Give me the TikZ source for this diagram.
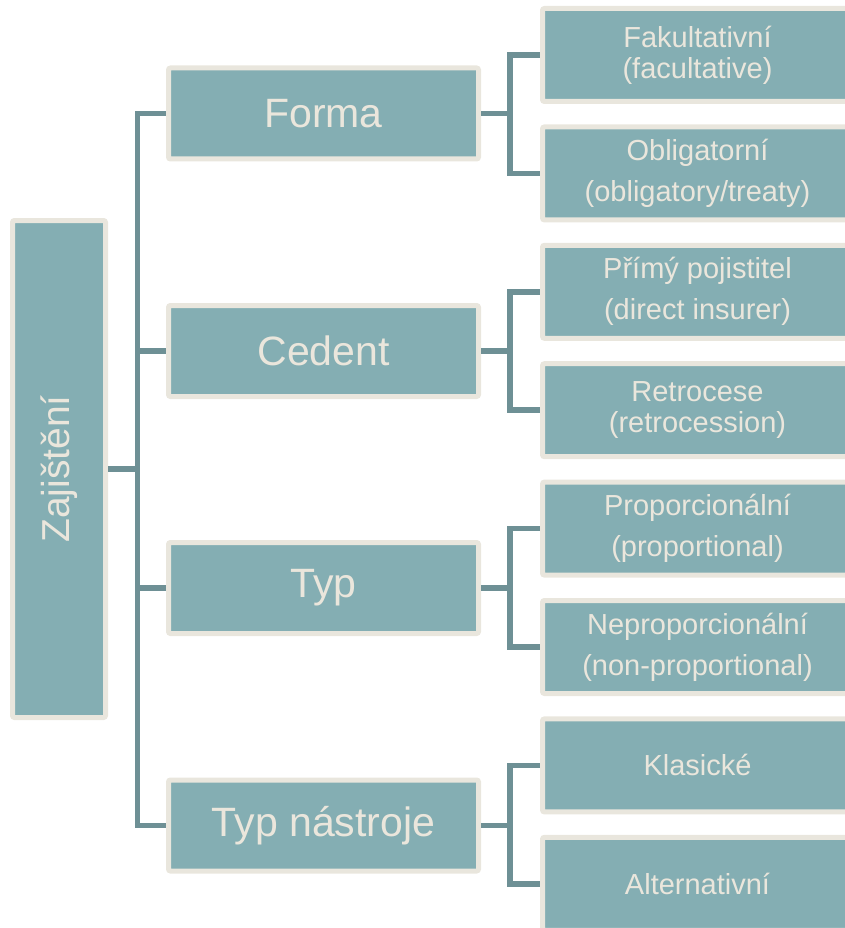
\documentclass[tikz,border=0pt]{standalone}
\usepackage{fontspec}
\setmainfont{Liberation Sans}
\usepackage{xcolor}
\usepackage{tikz}
\usetikzlibrary{positioning}

\definecolor{boxfill}{HTML}{84AEB3}
\definecolor{boxrim}{HTML}{E9E6DD}
\definecolor{linkcol}{HTML}{6E9095}
\definecolor{txtcol}{HTML}{EAE6DC}

\begin{document}
\begin{tikzpicture}[x=1pt, y=-1pt,
    box/.style={draw=boxrim, fill=boxfill, line width=5pt, rounded corners=2pt,
                text=txtcol, align=center, inner sep=0pt},
    rootbox/.style={box, minimum width=93pt, minimum height=497pt},
    grp/.style={box, minimum width=310pt, minimum height=91pt, font=\fontsize{41}{49}\selectfont},
    leaf/.style={box, minimum width=310pt, minimum height=93pt, font=\fontsize{29}{41}\selectfont},
    tight/.style={font=\fontsize{29}{31}\selectfont},
    conn/.style={draw=linkcol, line width=5.5pt}]
    \useasboundingbox (0,0) rectangle (845,928);
    \clip (0,0) rectangle (845,928);

    \node[rootbox] (root) at (59,469) {\rotatebox{90}{\fontsize{39}{47}\selectfont Zajištění}};

    \node[grp] (forma)  at (323.5,113.5) {Forma};
    \node[grp] (cedent) at (323.5,351)   {Cedent};
    \node[grp] (typ)    at (323.5,588)   {Typ};
    \node[grp] (nastr)  at (323.5,825.5) {Typ nástroje};

    \node[leaf,tight] (fak)    at (697.5,55)    {Fakultativní\\(facultative)};
    \node[leaf]       (obl)    at (697.5,173.4) {Obligatorní\\(obligatory/treaty)};
    \node[leaf]       (primy)  at (697.5,291.8) {Přímý pojistitel\\(direct insurer)};
    \node[leaf,tight] (retro)  at (697.5,410.2) {Retrocese\\(retrocession)};
    \node[leaf]       (prop)   at (697.5,528.6) {Proporcionální\\(proportional)};
    \node[leaf]       (neprop) at (697.5,647)   {Neproporcionální\\(non-proportional)};
    \node[leaf]       (klas)   at (697.5,765.4) {Klasické};
    \node[leaf]       (alt)    at (697.5,883.8) {Alternativní};

    % root to groups
    \draw[conn] (root.east) -- +(29.5,0) |- (forma.west);
    \draw[conn] (root.east) -- +(29.5,0) |- (cedent.west);
    \draw[conn] (root.east) -- +(29.5,0) |- (typ.west);
    \draw[conn] (root.east) -- +(29.5,0) |- (nastr.west);

    % groups to leaves
    \draw[conn] (forma.east) -- +(29,0) |- (fak.west);
    \draw[conn] (forma.east) -- +(29,0) |- (obl.west);
    \draw[conn] (cedent.east) -- +(29,0) |- (primy.west);
    \draw[conn] (cedent.east) -- +(29,0) |- (retro.west);
    \draw[conn] (typ.east) -- +(29,0) |- (prop.west);
    \draw[conn] (typ.east) -- +(29,0) |- (neprop.west);
    \draw[conn] (nastr.east) -- +(29,0) |- (klas.west);
    \draw[conn] (nastr.east) -- +(29,0) |- (alt.west);
  \end{tikzpicture}
\end{document}
